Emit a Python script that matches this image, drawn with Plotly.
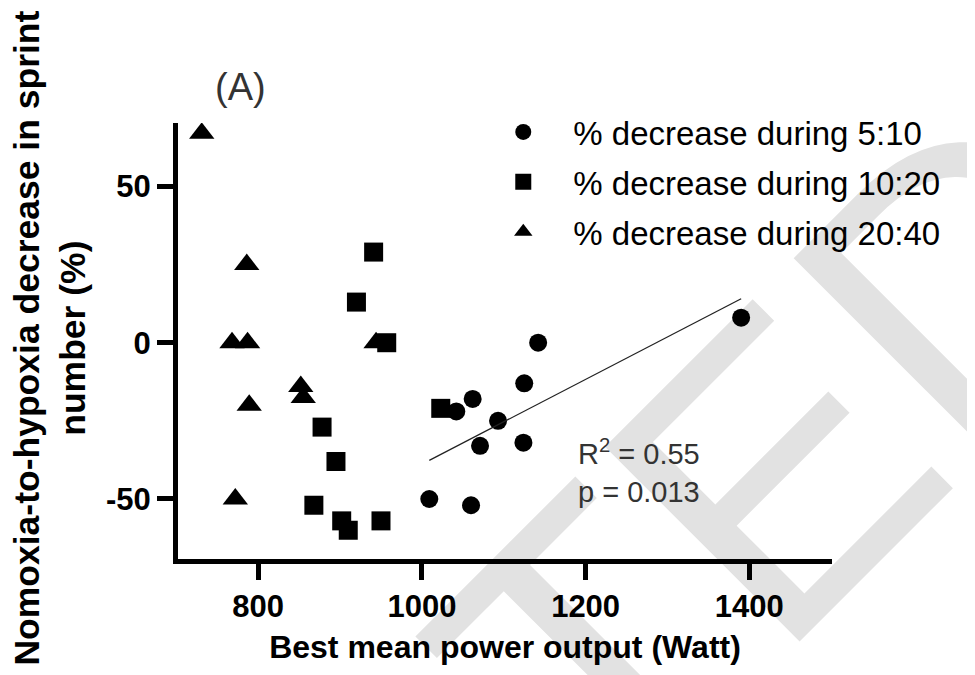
import numpy as np
import plotly.graph_objects as go

# ---- data ----
power_5_10 = [1390, 1142, 1125, 1062, 1042, 1093, 1071, 1124, 1009, 1060]
dec_5_10 = [8, 0, -13, -18, -22, -25, -33, -32, -50, -52]

power_10_20 = [941, 920, 957, 1023, 878, 895, 868, 902, 910, 950]
dec_10_20 = [29, 13, 0, -21, -27, -38, -52, -57, -60, -57]

power_20_40 = [731, 786, 768, 787, 789, 852, 855, 772, 944]
dec_20_40 = [67, 25, 0, 0, -20, -14, -17.5, -50, 0]

series_names = ["% decrease during 5:10", "% decrease during 10:20", "% decrease during 20:40"]
x_ticks = [800, 1000, 1200, 1400]
y_ticks = [-50, 0, 50]
y_ticktext = [str(v) for v in y_ticks]

# linear fit of the 5:10 series
slope, intercept = np.polyfit(power_5_10, dec_5_10, 1)
fit_x = [min(power_5_10), max(power_5_10)]
fit_y = [slope * v + intercept for v in fit_x]

FONT = "Liberation Sans, Arial, sans-serif"

# plot-area geometry (figure pixels); the page body adds an 8px offset
L, T, PW, PH = 169.5, 115, 654.5, 436
W, H = 975, 675


def px(xp):
    return (xp - 8 - L) / PW


def py(yp):
    return (T + PH - (yp - 8)) / PH


fig = go.Figure()
fig.add_trace(go.Scatter(x=power_5_10, y=dec_5_10, mode="markers", name=series_names[0],
                         legendgroup="a",
                         marker=dict(symbol="circle", size=18, color="black")))
fig.add_trace(go.Scatter(x=power_10_20, y=dec_10_20, mode="markers", name=series_names[1],
                         legendgroup="b",
                         marker=dict(symbol="square", size=19, color="black")))
fig.add_trace(go.Scatter(x=power_20_40, y=dec_20_40, mode="markers", name=series_names[2],
                         legendgroup="c",
                         marker=dict(symbol="triangle-up", size=22, color="black")))
fig.add_trace(go.Scatter(x=fit_x, y=fit_y, mode="lines", showlegend=False,
                         line=dict(color="#222222", width=1.3)))

fig.update_layout(
    width=W, height=H,
    margin=dict(l=L, r=W - L - PW, t=T, b=H - T - PH, autoexpand=False),
    paper_bgcolor="white", plot_bgcolor="rgba(0,0,0,0)",
    font=dict(family=FONT, color="black"),
    showlegend=True,
    legend=dict(x=px(473), y=py(104), xanchor="left", yanchor="top",
                font=dict(size=33, family=FONT, color="black"),
                itemwidth=90, tracegroupgap=4, bgcolor="rgba(0,0,0,0)"),
    xaxis=dict(range=[702, 1501], tickvals=x_ticks, showgrid=False, zeroline=False,
               showline=True, linecolor="black", linewidth=5,
               ticks="outside", ticklen=16, tickwidth=5, tickcolor="black",
               tickfont=dict(size=31, family=FONT, weight="bold"),
               title=dict(text="Best mean power output (Watt)", standoff=14,
                          font=dict(size=32, family=FONT, weight="bold"))),
    yaxis=dict(range=[-69.2, 70.3], tickvals=y_ticks, ticktext=y_ticktext,
               showgrid=False, zeroline=False,
               showline=True, linecolor="black", linewidth=5,
               ticks="outside", ticklen=16, tickwidth=5, tickcolor="black",
               tickfont=dict(size=31, family=FONT, weight="bold")),
    shapes=[
        dict(type="rect", xref="paper", yref="paper", layer="below",
             x0=px(274) - 0.01, x1=px(274) + 0.01, y0=py(917) - 0.01, y1=py(917) + 0.01,
             line=dict(width=0), fillcolor="rgba(0,0,0,0)",
             label=dict(text="ACCEPTED", textangle=-45, textposition="middle center",
                        font=dict(size=400, family=FONT, color="#e2e2e2"))),
    ],
    annotations=[
        dict(text="Nomoxia-to-hypoxia decrease in sprint<br>number (%)",
             xref="paper", yref="paper", x=px(49), y=py(338),
             xanchor="center", yanchor="middle", textangle=-90, showarrow=False,
             font=dict(size=35.5, family=FONT, weight="bold", color="black")),
        dict(text="(A)", xref="paper", yref="paper",
             x=px(240), y=py(87),
             xanchor="center", yanchor="middle", showarrow=False,
             font=dict(size=38, family=FONT, color="#333333")),
        dict(text="R<sup>2</sup> = 0.55<br>p = 0.013", xref="x", yref="y",
             x=1188, y=-41, xanchor="left", yanchor="middle", align="left",
             showarrow=False, font=dict(size=29, family=FONT, color="#333333")),
    ],
)

fig.write_html("out.html")
